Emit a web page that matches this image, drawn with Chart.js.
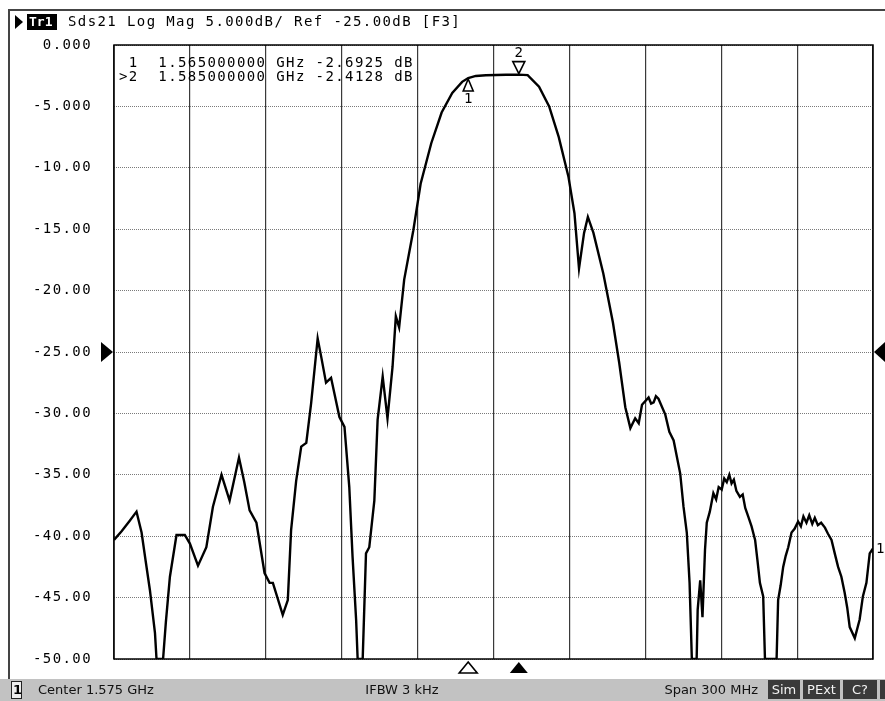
<!DOCTYPE html>
<html>
<head>
<meta charset="utf-8">
<script src="https://cdn.jsdelivr.net/npm/chart.js@4.4.1/dist/chart.umd.min.js"></script>
<style>
    body { margin: 0; background: #fff; }
    canvas { display: block; }
</style>
</head>
<body>
<canvas id="canvas1" width="885" height="701"></canvas>
<script>
// trace (MHz, dB)
const freqMHz = [
    1425.0, 1428.0, 1431.0, 1433.9, 1435.9, 1437.5, 1439.2, 1441.2, 1441.8, 1444.4,
    1445.5, 1447.1, 1449.7, 1453.0, 1455.0, 1458.2, 1461.5, 1464.1, 1467.5, 1470.7,
    1474.4, 1476.5, 1478.6, 1481.3, 1484.5, 1486.5, 1487.8, 1491.7, 1493.7, 1495.0,
    1497.0, 1499.0, 1501.0, 1502.9, 1505.5, 1507.0, 1508.8, 1510.8, 1514.1, 1516.1,
    1518.0, 1519.3, 1520.7, 1521.3, 1523.3, 1524.6, 1525.9, 1527.9, 1529.2, 1531.2,
    1533.1, 1535.1, 1536.4, 1537.7, 1539.7, 1543.3, 1546.2, 1550.4, 1554.5, 1558.7,
    1562.6, 1565.0, 1568.0, 1572.0, 1576.0, 1580.0, 1585.0, 1588.5, 1593.0, 1597.0,
    1600.8, 1604.6, 1607.0, 1608.8, 1610.8, 1612.3, 1614.5, 1618.4, 1622.2, 1624.7,
    1627.1, 1629.1, 1631.0, 1632.4, 1633.7, 1636.3, 1637.3, 1638.3, 1639.2, 1640.2,
    1642.9, 1644.5, 1646.2, 1648.8, 1650.1, 1651.4, 1652.5, 1653.4, 1655.3, 1655.7,
    1656.7, 1657.6, 1658.6, 1659.3, 1660.5, 1661.9, 1663.0, 1664.0, 1665.2, 1666.2,
    1667.2, 1668.2, 1669.1, 1670.0, 1671.0, 1672.4, 1673.5, 1674.5, 1675.7, 1677.0,
    1678.4, 1679.3, 1680.3, 1681.6, 1682.3, 1686.9, 1687.5, 1688.5, 1689.5, 1690.5,
    1691.5, 1692.8, 1694.0, 1695.4, 1696.5, 1697.5, 1698.7, 1699.8, 1701.0, 1702.0,
    1703.2, 1704.5, 1706.0, 1707.2, 1708.6, 1710.0, 1711.2, 1712.5, 1713.8, 1714.8,
    1715.8, 1717.8, 1719.7, 1721.0, 1722.4, 1723.7, 1725.0
];
const s21dB = [
    -40.3, -39.6, -38.8, -38.0, -39.7, -42.0, -44.4, -47.9, -50.0, -50.0,
    -47.0, -43.3, -39.9, -39.9, -40.6, -42.4, -40.9, -37.6, -35.0, -37.1,
    -33.6, -35.6, -37.9, -38.9, -43.0, -43.8, -43.8, -46.4, -45.2, -39.5,
    -35.5, -32.7, -32.4, -29.2, -23.9, -25.5, -27.5, -27.1, -30.3, -31.1,
    -36.0, -41.7, -46.8, -50.0, -50.0, -41.4, -40.9, -37.1, -30.5, -27.0,
    -30.4, -26.2, -22.1, -23.0, -19.1, -15.1, -11.3, -8.0, -5.5, -3.9,
    -3.0, -2.69, -2.52, -2.46, -2.44, -2.42, -2.41, -2.45, -3.4, -5.0,
    -7.5, -10.7, -13.7, -18.2, -15.3, -14.0, -15.3, -18.6, -22.6, -25.9,
    -29.5, -31.2, -30.4, -30.8, -29.3, -28.7, -29.2, -29.1, -28.6, -28.8,
    -30.1, -31.5, -32.2, -34.9, -37.6, -39.7, -43.8, -50.0, -50.0, -46.0,
    -43.6, -46.6, -41.1, -38.9, -38.0, -36.5, -37.0, -36.0, -36.2, -35.3,
    -35.6, -35.0, -35.7, -35.4, -36.3, -36.8, -36.6, -37.7, -38.4, -39.2,
    -40.3, -41.9, -43.8, -44.9, -50.0, -50.0, -45.2, -44.0, -42.5, -41.6,
    -40.9, -39.7, -39.4, -38.8, -39.2, -38.4, -38.9, -38.3, -39.0, -38.5,
    -39.1, -38.9, -39.3, -39.8, -40.3, -41.5, -42.5, -43.3, -44.6, -45.8,
    -47.4, -48.3, -46.8, -44.9, -43.8, -41.4, -41.0
];
const yTickLabels = ['0.000', '-5.000', '-10.00', '-15.00', '-20.00', '-25.00',
    '-30.00', '-35.00', '-40.00', '-45.00', '-50.00'];
const markerFreq = [1565, 1585];
const markerDb = [-2.6925, -2.4128];
const markerText = [' 1  1.565000000 GHz -2.6925 dB', '>2  1.585000000 GHz -2.4128 dB'];
const refLevel = -25;
const titleText = 'Sds21 Log Mag 5.000dB/ Ref -25.00dB [F3]';
const statusTexts = ['Center 1.575 GHz', 'IFBW 3 kHz', 'Span 300 MHz'];
const badges = ['Sim', 'PExt', 'C?'];

const MONO = '14px "DejaVu Sans Mono"';

function tri(ctx, pts, fill) {
    ctx.beginPath();
    ctx.moveTo(pts[0][0], pts[0][1]);
    ctx.lineTo(pts[1][0], pts[1][1]);
    ctx.lineTo(pts[2][0], pts[2][1]);
    ctx.closePath();
    if (fill) ctx.fill(); else ctx.stroke();
}

const vnaDecor = {
    id: 'vnaDecor',
    beforeDraw(chart) {
        const ctx = chart.ctx;
        ctx.save();
        ctx.fillStyle = '#fff';
        ctx.fillRect(0, 0, chart.width, chart.height);
        ctx.restore();
        ctx.letterSpacing = '1.4px';
    },
    afterDraw(chart) {
        const ctx = chart.ctx;
        const a = chart.chartArea;
        const xs = chart.scales.x, ys = chart.scales.y;
        ctx.save();
        ctx.letterSpacing = '1.4px';

        // plot frame
        ctx.strokeStyle = '#000';
        ctx.lineWidth = 1.5;
        ctx.strokeRect(a.left, a.top, a.right - a.left, a.bottom - a.top);

        // outer frame
        ctx.strokeStyle = '#444';
        ctx.lineWidth = 2;
        ctx.beginPath();
        ctx.moveTo(8, 10); ctx.lineTo(885, 10);
        ctx.moveTo(9, 10); ctx.lineTo(9, 679);
        ctx.stroke();

        // title line
        ctx.fillStyle = '#000';
        tri(ctx, [[15, 15], [23, 22], [15, 29]], true);
        ctx.fillRect(27, 14, 30, 16);
        ctx.fillStyle = '#fff';
        ctx.font = 'bold 13px "DejaVu Sans Mono"';
        ctx.textBaseline = 'middle';
        ctx.textAlign = 'left';
        ctx.letterSpacing = '0px';
        ctx.fillText('Tr1', 29, 22.5);
        ctx.letterSpacing = '1.4px';
        ctx.fillStyle = '#000';
        ctx.font = MONO;
        ctx.fillText(titleText, 68, 22.5);

        // marker readout
        markerText.forEach((t, i) => ctx.fillText(t, 119, 63 + i * 14.5));

        // markers on trace
        ctx.letterSpacing = '0px';
        ctx.lineWidth = 1.6;
        ctx.strokeStyle = '#000';
        const m1x = xs.getPixelForValue(markerFreq[0]), m1y = ys.getPixelForValue(markerDb[0]);
        const m2x = xs.getPixelForValue(markerFreq[1]), m2y = ys.getPixelForValue(markerDb[1]);
        tri(ctx, [[m1x, m1y + 1], [m1x - 5, m1y + 13], [m1x + 5, m1y + 13]], false);
        tri(ctx, [[m2x, m2y - 1], [m2x - 6, m2y - 13], [m2x + 6, m2y - 13]], false);
        ctx.textAlign = 'center';
        ctx.fillText('1', m1x, m1y + 21);
        ctx.fillText('2', m2x, m2y - 21);

        // marker positions under the axis
        tri(ctx, [[m1x, a.bottom + 3], [m1x - 9, a.bottom + 14], [m1x + 9, a.bottom + 14]], false);
        tri(ctx, [[m2x, a.bottom + 3], [m2x - 9, a.bottom + 14], [m2x + 9, a.bottom + 14]], true);

        // reference level arrows
        const ry = ys.getPixelForValue(refLevel);
        tri(ctx, [[a.left - 13, ry - 10], [a.left - 1, ry], [a.left - 13, ry + 10]], true);
        tri(ctx, [[a.right + 12, ry - 10], [a.right + 1, ry], [a.right + 12, ry + 10]], true);

        // trace label at right edge
        const ly = ys.getPixelForValue(s21dB[s21dB.length - 1]);
        ctx.textAlign = 'left';
        ctx.fillText('1', a.right + 3, ly + 1);

        // status bar
        ctx.fillStyle = '#c2c2c2';
        ctx.fillRect(0, 679, 885, 22);
        ctx.fillStyle = '#ececec';
        ctx.fillRect(11, 681, 11, 18);
        ctx.strokeStyle = '#222';
        ctx.lineWidth = 1;
        ctx.strokeRect(11.5, 681.5, 10, 17);
        ctx.fillStyle = '#000';
        ctx.font = 'bold 13px "DejaVu Sans"';
        ctx.fillText('1', 13, 690.5);
        ctx.font = '13px "DejaVu Sans"';
        ctx.fillStyle = '#111';
        ctx.fillText(statusTexts[0], 38, 690.5);
        ctx.textAlign = 'center';
        ctx.fillText(statusTexts[1], 402, 690.5);
        ctx.textAlign = 'right';
        ctx.fillText(statusTexts[2], 758, 690.5);
        const bx = [[768, 32], [803, 37], [843, 34]];
        ctx.textAlign = 'center';
        badges.forEach((b, i) => {
            ctx.fillStyle = '#3a3a3a';
            ctx.fillRect(bx[i][0], 680, bx[i][1], 19);
            ctx.fillStyle = '#f2f2f2';
            ctx.fillText(b, bx[i][0] + bx[i][1] / 2, 690.5);
        });
        ctx.fillStyle = '#3a3a3a';
        ctx.fillRect(880, 680, 5, 19);
        ctx.restore();
    }
};

const config = {
    type: 'line',
    data: {
        datasets: [{
            label: 'Sds21',
            data: freqMHz.map((f, i) => ({ x: f, y: s21dB[i] })),
            borderColor: '#000',
            borderWidth: 2.4,
            pointRadius: 0,
            tension: 0,
            fill: false
        }]
    },
    options: {
        responsive: false,
        animation: false,
        layout: { padding: { left: 0, top: 45, right: 12, bottom: 0 } },
        plugins: {
            legend: { display: false },
            tooltip: { enabled: false }
        },
        scales: {
            x: {
                type: 'linear',
                min: 1425,
                max: 1725,
                ticks: { stepSize: 30, display: false },
                grid: { color: '#3a3a3a', lineWidth: 1.2, drawTicks: false },
                border: { display: false },
                afterFit: function (scale) { scale.height = 42; }
            },
            y: {
                min: -50,
                max: 0,
                ticks: {
                    stepSize: 5,
                    padding: 22,
                    color: '#000',
                    font: { family: 'DejaVu Sans Mono', size: 14 },
                    callback: function (value) { return yTickLabels[Math.round(-value / 5)]; }
                },
                grid: { color: '#7a7a7a', lineWidth: 1, drawTicks: false },
                border: { display: false, dash: [1, 1] },
                afterFit: function (scale) { scale.width = 114; }
            }
        }
    },
    plugins: [vnaDecor]
};

const chart = new Chart(document.getElementById('canvas1'), config);
</script>
</body>
</html>
